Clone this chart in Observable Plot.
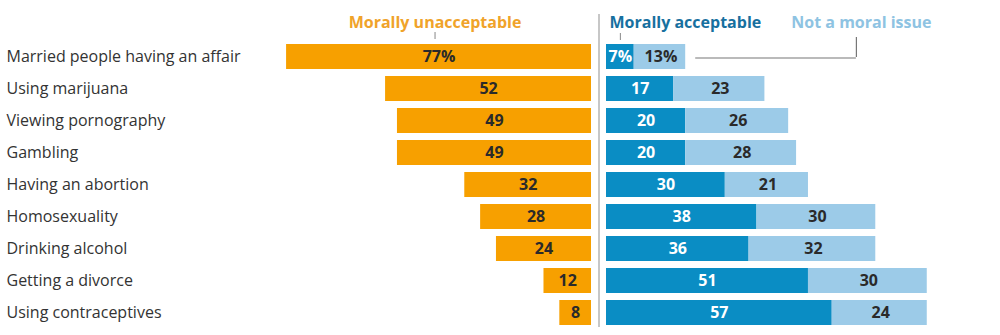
<!DOCTYPE html>
<html>
<head>
<meta charset="utf-8">
<script src="https://cdn.jsdelivr.net/npm/d3@7"></script>
<script src="https://cdn.jsdelivr.net/npm/@observablehq/plot@0.6"></script>
<style>
  html, body { margin: 0; padding: 0; background: #fff; }
  #chart svg { display: block; font-family: "Open Sans", "Liberation Sans", sans-serif; }
</style>
</head>
<body>
<div id="chart"></div>
<script>
// Share of adults saying each behavior is morally unacceptable / acceptable / not a moral issue
const categories = [
  "Married people having an affair",
  "Using marijuana",
  "Viewing pornography",
  "Gambling",
  "Having an abortion",
  "Homosexuality",
  "Drinking alcohol",
  "Getting a divorce",
  "Using contraceptives"
];
const unacceptable = [77, 52, 49, 49, 32, 28, 24, 12, 8];
const acceptable   = [7, 17, 20, 20, 30, 38, 36, 51, 57];
const notMoral     = [13, 23, 26, 28, 21, 30, 32, 30, 24];
const seriesNames = ["Morally unacceptable", "Morally acceptable", "Not a moral issue"];

const colors = {
  unacc: "#F7A000",
  acc: "#0A8DC4",
  notm: "#9CCBE8",
  unaccHead: "#F0A32A",
  accHead: "#17709F",
  notmHead: "#8EC3E2"
};

const rows = categories.map((cat, i) => ({
  cat,
  unacc: unacceptable[i],
  acc: acceptable[i],
  notm: notMoral[i],
  pct: i === 0 ? "%" : ""
}));

// half of the gap between the left and right bar groups, in pixels
const gap = 7.5;
const first = rows[0];
const leaderX = 65; // where the "Not a moral issue" leader line turns up
const font = "'Open Sans', 'Liberation Sans', sans-serif";

const chart = Plot.plot({
  width: 1000,
  height: 335,
  margin: 0,
  x: {domain: [-100, 100], range: [202.5, 994.5], axis: null},
  y: {domain: categories, range: [39.875, 330.125], paddingInner: 0.21, paddingOuter: 0.105, axis: null},
  style: {fontFamily: font},
  marks: [
    // center divider
    Plot.ruleX([0], {stroke: "#b5b5b5", strokeWidth: 1.5, insetTop: 14, insetBottom: 8}),

    // bars
    Plot.barX(rows, {y: "cat", x1: d => -d.unacc, x2: 0, dx: -gap, fill: colors.unacc}),
    Plot.barX(rows, {y: "cat", x1: 0, x2: "acc", dx: gap, fill: colors.acc}),
    Plot.barX(rows, {y: "cat", x1: "acc", x2: d => d.acc + d.notm, dx: gap, fill: colors.notm}),

    // value labels
    Plot.text(rows, {y: "cat", x: d => -d.unacc / 2, dx: -gap, text: d => d.unacc + d.pct,
      fill: "#2a2a2a", fontWeight: "bold", fontSize: 16}),
    Plot.text(rows, {y: "cat", x: d => d.acc / 2, dx: gap, text: d => d.acc + d.pct,
      fill: "#fff", fontWeight: "bold", fontSize: 16}),
    Plot.text(rows, {y: "cat", x: d => d.acc + d.notm / 2, dx: gap + 1, text: d => d.notm + d.pct,
      fill: "#2a2a2a", fontWeight: "bold", fontSize: 16}),

    // category labels
    Plot.text(rows, {y: "cat", text: "cat", frameAnchor: "left", textAnchor: "start", dx: 6,
      fill: "#333", fontSize: 16}),

    // series headers
    Plot.text([seriesNames[0]], {x: -first.unacc / 2, dx: -gap - 4, frameAnchor: "top", lineAnchor: "bottom", dy: 27.5,
      text: d => d, fill: colors.unaccHead, fontWeight: "bold", fontSize: 16}),
    Plot.text([seriesNames[1]], {x: 0, dx: gap + 3, frameAnchor: "top", lineAnchor: "bottom", dy: 27.5,
      textAnchor: "start", text: d => d, fill: colors.accHead, fontWeight: "bold", fontSize: 16}),
    Plot.text([seriesNames[2]], {x: leaderX, dx: 5, frameAnchor: "top", lineAnchor: "bottom", dy: 27.5,
      text: d => d, fill: colors.notmHead, fontWeight: "bold", fontSize: 16}),

    // small ticks from the headers to the first row
    Plot.ruleX([-first.unacc / 2], {dx: -gap - 4, stroke: "#888", insetTop: 32, insetBottom: 296}),
    Plot.ruleX([first.acc / 2], {dx: gap, stroke: "#888", insetTop: 33, insetBottom: 295}),

    // leader line for "Not a moral issue"
    Plot.ruleX([leaderX], {stroke: "#777", strokeWidth: 1.2, insetTop: 37, insetBottom: 278}),
    Plot.ruleY([first.cat], {x1: first.acc + first.notm, x2: leaderX, insetLeft: gap + 10,
      stroke: "#777", strokeWidth: 1.2, dy: 1})
  ]
});

document.getElementById("chart").appendChild(chart);
</script>
</body>
</html>
